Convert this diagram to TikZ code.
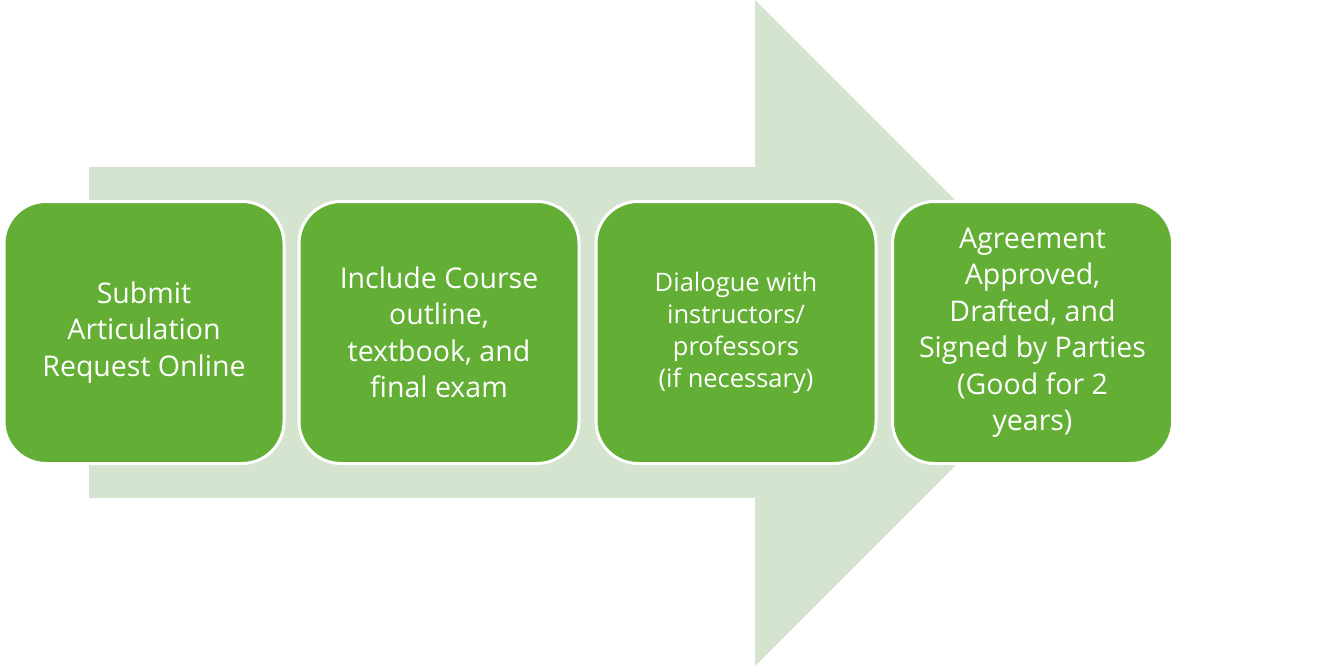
\documentclass[tikz,border=0pt]{standalone}
\usepackage{fontspec}
\setmainfont{Open Sans}
\definecolor{boxgreen}{HTML}{63AF35}
\definecolor{arrowgreen}{HTML}{D4E4CF}
\begin{document}
\begin{tikzpicture}[x=1pt,y=-1pt,
  stepbox/.style={draw=white, line width=3pt, fill=boxgreen, rounded corners=42pt,
    minimum width=280pt, minimum height=262pt, align=center, text=white,
    font=\fontsize{28.5}{36.5}\selectfont, inner sep=0pt}]
\useasboundingbox (0,0) rectangle (1328,666);
\fill[arrowgreen] (89,167) -- (755,167) -- (755,0) -- (1088,333) -- (755,666) -- (755,498) -- (89,498) -- cycle;
\node[stepbox] (s1) at (144,332.5) {Submit\\Articulation\\Request Online};
\node[stepbox] (s2) at (439,332.5) {Include Course\\outline,\\textbook, and\\final exam};
\node[stepbox, font=\fontsize{25.5}{32}\selectfont] (s3) at (736,332.5) {Dialogue with\\instructors/\\professors\\(if necessary)};
\node[stepbox] (s4) at (1032.5,332.5) {Agreement\\Approved,\\Drafted, and\\Signed by Parties\\(Good for 2\\years)};
\end{tikzpicture}
\end{document}
